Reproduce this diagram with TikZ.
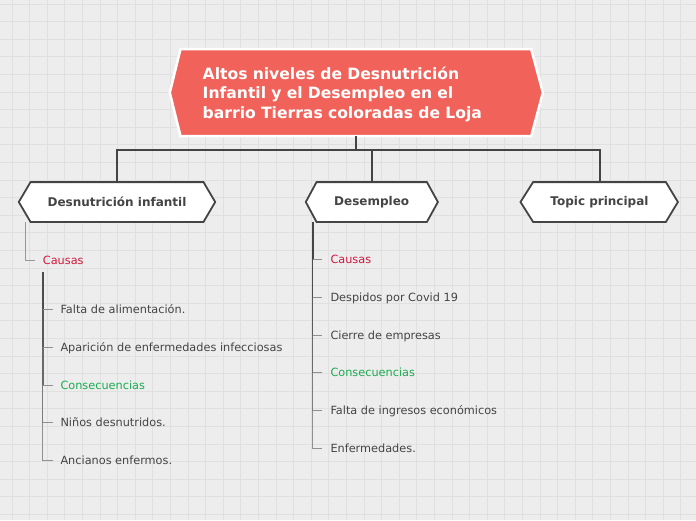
\documentclass[tikz,border=0pt]{standalone}
\usepackage{fontspec}
\setmainfont{DejaVu Sans}
\usetikzlibrary{calc}
\definecolor{bgc}{HTML}{EDEDED}
\definecolor{gridc}{HTML}{E0E0E0}
\definecolor{titlec}{HTML}{F1625A}
\definecolor{txt}{HTML}{444444}
\definecolor{redc}{HTML}{D0183C}
\definecolor{greenc}{HTML}{1AAB50}
\pgfdeclarelayer{background}
\pgfsetlayers{background,main}
\begin{document}
\begin{tikzpicture}[x=1pt,y=-1pt,
  titlebox/.style={minimum width=350.3pt, minimum height=86.7pt, text width=306.3pt,
    inner xsep=22pt, inner ysep=0pt, align=left, text=white,
    font=\bfseries\fontsize{15.6}{19.4}\selectfont},
  hexnode/.style={minimum height=39.4pt, inner sep=0pt, text=txt,
    font=\bfseries\fontsize{12}{14}\selectfont},
  item/.style={anchor=west, inner sep=0pt, text height=8.2pt, text depth=0pt,
    text=txt, font=\fontsize{11.3}{13}\selectfont},
  conn/.style={draw=txt, line width=2pt},
  hexline/.style={draw=txt, line width=1.8pt, fill=white},
  tick/.style={draw=txt!60!white, line width=1pt},
  thinlink/.style={draw=txt!55!white, line width=1pt},
  b1/.style={draw=txt, line width=2.0pt},
  b2/.style={draw=txt!95!white, line width=1.9pt},
  b3/.style={draw=txt!88!white, line width=1.75pt},
  b4/.style={draw=txt!80!white, line width=1.6pt},
  b5/.style={draw=txt!70!white, line width=1.4pt},
  b6/.style={draw=txt!60!white, line width=1.2pt},
]
\useasboundingbox (0,0) rectangle (696,520);
\begin{pgfonlayer}{background}
  \fill[bgc] (0,0) rectangle (696,520);
  \foreach \i in {0,...,39} \draw[gridc, line width=1pt] ({12+17.6*\i},0) -- ({12+17.6*\i},520);
  \foreach \j in {0,...,29} \draw[gridc, line width=1pt] (0,{4+17.6*\j}) -- (696,{4+17.6*\j});
\end{pgfonlayer}

% main nodes
\node[titlebox] (title) at (355.85,92.65) {\rule{0pt}{15.5pt}Altos niveles de Desnutrición\\Infantil y el Desempleo en el\\barrio Tierras coloradas de Loja};
\node[hexnode, minimum width=172.6pt] (n1) at (117,202) {Desnutrición infantil};
\node[hexnode, minimum width=110pt] (n2) at (371.7,202) {Desempleo};
\node[hexnode, minimum width=132.4pt] (n3) at (599.5,202) {Topic principal};

\begin{pgfonlayer}{background}
  \draw[white, line width=2.5pt, fill=titlec] (title.north west) -- (title.north east) -- ([xshift=11.7pt]title.east) -- (title.south east) -- (title.south west) -- ([xshift=-10.7pt]title.west) -- cycle;
  \draw[hexline] (n1.north west) -- (n1.north east) -- ([xshift=11.7pt]n1.east) -- (n1.south east) -- (n1.south west) -- ([xshift=-11.7pt]n1.west) -- cycle;
  \draw[hexline] (n2.north west) -- (n2.north east) -- ([xshift=11pt]n2.east) -- (n2.south east) -- (n2.south west) -- ([xshift=-10.7pt]n2.west) -- cycle;
  \draw[hexline] (n3.north west) -- (n3.north east) -- ([xshift=12pt]n3.east) -- (n3.south east) -- (n3.south west) -- ([xshift=-12.6pt]n3.west) -- cycle;
\end{pgfonlayer}

% main connectors
\coordinate (bus) at (0,150);
\draw[conn] (title.south) -- (title.south |- bus) -| (n1.north);
\draw[conn] (title.south |- bus) -| (n2.north);
\draw[conn] (title.south |- bus) -| (n3.north);

% left subtree
\node[item, text=redc] (cA) at (42.7,260) {Causas};
\node[item] (a1) at (60.3,309.3) {Falta de alimentación.};
\node[item] (a2) at (60.3,347) {Aparición de enfermedades infecciosas};
\node[item, text=greenc] (a3) at (60.3,385) {Consecuencias};
\node[item] (a4) at (60.3,422.7) {Niños desnutridos.};
\node[item] (a5) at (60.3,460.7) {Ancianos enfermos.};

\coordinate (linkA) at ([xshift=-5pt]n1.south west);
\draw[thinlink] (linkA) |- ([xshift=-7.7pt]cA.west);
\coordinate (barL) at (42.7,271.7);
\draw[b2] (barL) -- (barL |- a1.west);
\draw[b3] (barL |- a1.west) -- (barL |- a2.west);
\draw[b4] (barL |- a2.west) -- (barL |- a3.west);
\draw[b5] (barL |- a3.west) -- (barL |- a4.west);
\draw[b6] (barL |- a4.west) -- (barL |- a5.west) -- ([xshift=-7pt]a5.west);
\foreach \t in {a1,a2,a3,a4} \draw[tick] (barL |- \t.west) -- ([xshift=-7pt]\t.west);

% middle subtree
\node[item, text=redc] (m1) at (330.3,259.3) {Causas};
\node[item] (m2) at (330.3,297.3) {Despidos por Covid 19};
\node[item] (m3) at (330.3,335.3) {Cierre de empresas};
\node[item, text=greenc] (m4) at (330.3,372.7) {Consecuencias};
\node[item] (m5) at (330.3,410.7) {Falta de ingresos económicos};
\node[item] (m6) at (330.3,448.3) {Enfermedades.};

\coordinate (barM) at ([xshift=-4pt]n2.south west);
\draw[b1] (barM) -- (barM |- m1.west);
\draw[b2] (barM |- m1.west) -- (barM |- m2.west);
\draw[b3] (barM |- m2.west) -- (barM |- m3.west);
\draw[b4] (barM |- m3.west) -- (barM |- m4.west);
\draw[b5] (barM |- m4.west) -- (barM |- m5.west);
\draw[b6] (barM |- m5.west) -- (barM |- m6.west) -- ([xshift=-8pt]m6.west);
\foreach \t in {m1,m2,m3,m4,m5} \draw[tick] (barM |- \t.west) -- ([xshift=-8pt]\t.west);
\end{tikzpicture}
\end{document}
